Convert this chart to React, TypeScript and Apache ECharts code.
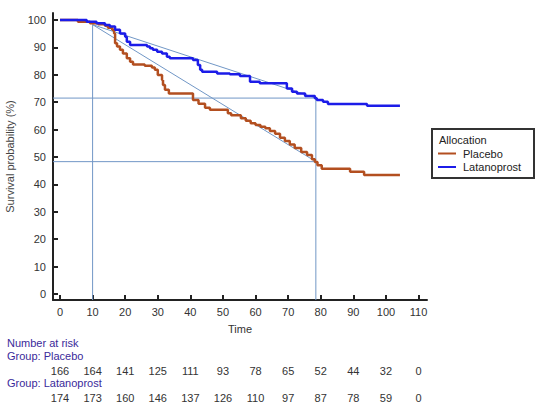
import React, { useEffect, useRef } from "react";
import * as echarts from "echarts";

// Kaplan-Meier step data [time, survival %]
const placeboKM: number[][] = [
  [0, 100], [5.5, 99.4], [9.2, 98.8], [11.7, 98.4], [13.8, 97.9], [14.7, 97.2], [16, 96.4], [16.6, 95.1],
  [16.9, 91.5], [17.5, 90.3], [18.4, 89.1], [19.3, 87.8], [20.5, 86], [21.5, 84.8], [22.4, 83.8],
  [26, 83.3], [28.2, 82.7], [29.1, 81.8], [30, 79.9], [31.3, 78.1], [31.6, 76.3], [32.2, 74.5], [33.4, 73.2],
  [40.8, 70.8], [42.5, 69.4], [44.5, 68.0], [46, 67.2], [51.5, 66], [52.5, 65.2], [55.5, 64.1], [57, 63.2],
  [58.5, 62.3], [60, 61.7], [61.5, 61], [63, 60.5], [64.4, 59.5], [66, 58.5], [67.5, 57], [69, 55.8],
  [70.5, 54.6], [72, 53.3], [74, 51.8], [75.8, 50.7], [77.3, 49.2], [78.2, 48.2], [79, 47], [80.3, 45.7],
  [89, 44.6], [93.3, 43.4], [104.3, 43.4],
];
const latanoprostKM: number[][] = [
  [0, 100], [8.2, 99.4], [11.2, 98.8], [13.8, 98.2], [15.3, 97.6], [16.9, 96.4], [18.4, 95.1], [20, 93.9],
  [20.5, 92.1], [21.5, 90.9], [26.7, 90.3], [27.6, 89.7], [28.5, 89.1], [29.8, 88.4], [31.3, 87.8],
  [32.8, 86.6], [33.7, 86.0], [40.8, 85.4], [42.3, 83.6], [43, 81.8], [43.6, 81.1], [48.2, 80.5],
  [52.1, 80.2], [55.2, 79.6], [58.3, 77.5], [61.3, 76.9], [69.6, 75.0], [71.2, 73.8], [72.7, 73.2],
  [75.2, 72.3], [78.2, 71.4], [78.8, 70.8], [80.7, 70.2], [82.2, 69.3], [94.2, 68.7], [104.3, 68.7],
];

// Reference lines
const refVert10: number[][] = [[10, -2.19], [10, 98.3]];
const refHorizHigh: number[][] = [[-2.15, 71.5], [78.5, 71.5]];
const refVert78: number[][] = [[78.5, -2.19], [78.5, 71.5]];
const refHorizLow: number[][] = [[-2.15, 48.3], [78.5, 48.3]];
const refDiagHigh: number[][] = [[10, 98.3], [78.5, 71.5]];
const refDiagLow: number[][] = [[10, 98.3], [78.5, 48.3]];

const xTicks = [0, 10, 20, 30, 40, 50, 60, 70, 80, 90, 100, 110];
const yTicks = [0, 10, 20, 30, 40, 50, 60, 70, 80, 90, 100];
const riskTimes = [0, 10, 20, 30, 40, 50, 60, 70, 80, 90, 100, 110];
const riskPlacebo = [166, 164, 141, 125, 111, 93, 78, 65, 52, 44, 32, 0];
const riskLatanoprost = [174, 173, 160, 146, 137, 126, 110, 97, 87, 78, 59, 0];

const FONT = "'Liberation Sans', Arial, sans-serif";
const PLACEBO_COLOR = "#b34f20";
const LATANO_COLOR = "#1c1ce8";
const REF_COLOR = "#7197c6";
const LABEL_COLOR = "#3a2a9a";

export default function App() {
  const ref = useRef<HTMLDivElement>(null);
  useEffect(() => {
    if (!ref.current) return;
    const chart = echarts.init(ref.current, undefined, { renderer: "svg" });
    const refSeries = (data: number[][]) => ({
      type: "line",
      data,
      symbol: "none",
      silent: true,
      lineStyle: { color: REF_COLOR, width: 1 },
      z: 1,
    });
    chart.setOption({
      animation: false,
      textStyle: { fontFamily: FONT },
      grid: { left: 53, top: 13, width: 374, height: 287, containLabel: false, outerBoundsMode: "none" },
      xAxis: {
        type: "value",
        min: -2.15,
        max: 112.6,
        name: "Time",
        nameLocation: "middle",
        nameGap: 23,
        nameTextStyle: { fontSize: 11, color: "#333", fontFamily: FONT },
        axisLine: { show: true, onZero: false, lineStyle: { color: "#222", width: 2 } },
        axisTick: { show: true, inside: true, length: 5, customValues: xTicks, lineStyle: { color: "#222", width: 2 } },
        axisLabel: { customValues: xTicks, color: "#333", fontSize: 11, margin: 6, fontFamily: FONT },
        splitLine: { show: false },
      },
      yAxis: {
        type: "value",
        min: -2.19,
        max: 102.55,
        name: "Survival probability (%)",
        nameLocation: "middle",
        nameRotate: 90,
        nameGap: 38,
        nameTextStyle: { fontSize: 11, color: "#444", fontFamily: FONT },
        axisLine: { show: true, onZero: false, lineStyle: { color: "#222", width: 2 } },
        axisTick: { show: true, inside: true, length: 5, customValues: yTicks, lineStyle: { color: "#222", width: 2 } },
        axisLabel: { customValues: yTicks, color: "#333", fontSize: 11, margin: 7, fontFamily: FONT },
        splitLine: { show: false },
      },
      series: [
        refSeries(refVert10),
        refSeries(refHorizHigh),
        refSeries(refVert78),
        refSeries(refHorizLow),
        refSeries(refDiagHigh),
        refSeries(refDiagLow),
        {
          name: "Placebo",
          type: "line",
          step: "end",
          data: placeboKM,
          symbol: "none",
          lineStyle: { color: PLACEBO_COLOR, width: 2.5 },
          z: 3,
        },
        {
          name: "Latanoprost",
          type: "line",
          step: "end",
          data: latanoprostKM,
          symbol: "none",
          lineStyle: { color: LATANO_COLOR, width: 2.5 },
          z: 4,
        },
      ],
    });

    const px = (t: number) => chart.convertToPixel({ xAxisIndex: 0 }, t) as number;
    const txt = (x: number, y: number, text: string, fill: string, align = "left") => ({
      type: "text",
      x,
      y,
      style: { text, fill, font: `11px ${FONT}`, textAlign: align, textVerticalAlign: "middle" },
    });
    const graphics: any[] = [
      txt(7, 343, "Number at risk", LABEL_COLOR),
      txt(7, 356, "Group: Placebo", LABEL_COLOR),
      txt(7, 383, "Group: Latanoprost", LABEL_COLOR),
    ];
    riskTimes.forEach((t, i) => {
      graphics.push(txt(px(t), 370.5, String(riskPlacebo[i]), "#333", "center"));
      graphics.push(txt(px(t), 398, String(riskLatanoprost[i]), "#333", "center"));
    });
    // legend box
    graphics.push({
      type: "rect",
      shape: { x: 432, y: 129, width: 102, height: 49 },
      style: { fill: "#fff", stroke: "#333", lineWidth: 2 },
    });
    graphics.push(txt(439, 139.5, "Allocation", "#222"));
    graphics.push({ type: "line", shape: { x1: 438, y1: 153.5, x2: 456, y2: 153.5 }, style: { stroke: PLACEBO_COLOR, lineWidth: 2 } });
    graphics.push(txt(463, 153.5, "Placebo", "#222"));
    graphics.push({ type: "line", shape: { x1: 438, y1: 167, x2: 456, y2: 167 }, style: { stroke: LATANO_COLOR, lineWidth: 2 } });
    graphics.push(txt(463, 167, "Latanoprost", "#222"));
    chart.setOption({ graphic: graphics });

    return () => chart.dispose();
  }, []);
  return <div ref={ref} style={{ position: "absolute", left: 0, top: 0, width: 554, height: 416, background: "#fff" }} />;
}
